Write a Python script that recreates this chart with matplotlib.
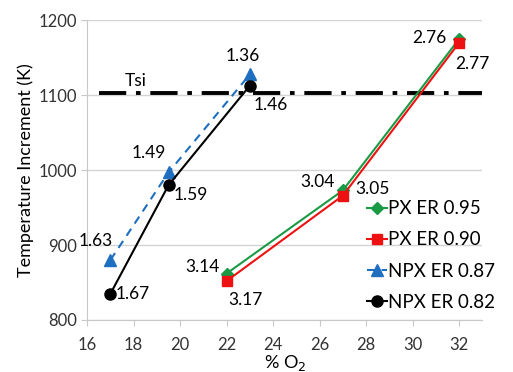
import matplotlib.pyplot as plt

plt.rcParams['font.family'] = ['Lato', 'DejaVu Sans']

# % O2 and temperature increment per case
px_o2 = [22, 27, 32]
npx_o2 = [17, 19.5, 23]

px95_temp = [862, 973, 1175]
px90_temp = [852, 966, 1170]
npx87_temp = [880, 997, 1128]
npx82_temp = [835, 980, 1113]

# equivalence-ratio labels at each point
px95_lbl = ['3.14', '3.04', '2.76']
px90_lbl = ['3.17', '3.05', '2.77']
npx87_lbl = ['1.63', '1.49', '1.36']
npx82_lbl = ['1.67', '1.59', '1.46']

tsi = 1103

fig = plt.figure(figsize=(5.13, 3.72), dpi=100)
ax = fig.add_axes([0.17, 0.14, 0.77, 0.805])

ax.axhline(tsi, xmin=0.03, xmax=1.0, color='black', lw=2.8,
           dashes=(7, 2.5, 1.2, 2.5), zorder=2)
ax.text(17.6, tsi + 5, 'Tsi', fontsize=12.5, ha='left', va='bottom')

ax.plot(px_o2, px95_temp, color='#1a9a45', marker='D', ms=6, lw=1.5,
        label='PX ER 0.95', zorder=3)
ax.plot(px_o2, px90_temp, color='#ee1111', marker='s', ms=7, lw=1.5,
        label='PX ER 0.90', zorder=3)
ax.plot(npx_o2, npx87_temp, color='#1f6fc0', marker='^', ms=8, lw=1.5,
        ls=(0, (4, 3)), label='NPX ER 0.87', zorder=3)
ax.plot(npx_o2, npx82_temp, color='black', marker='o', ms=8, lw=1.5,
        label='NPX ER 0.82', zorder=4)

fs = 12.5
# offsets (points) for each label
def put(xs, ys, lbls, offs):
    for x, y, t, (dx, dy, ha, va) in zip(xs, ys, lbls, offs):
        ax.annotate(t, (x, y), xytext=(dx, dy), textcoords='offset points',
                    ha=ha, va=va, fontsize=fs)

put(npx_o2, npx82_temp, npx82_lbl,
    [(4, 0, 'left', 'center'), (4, -7, 'left', 'center'), (3, -14, 'left', 'center')])
put(npx_o2, npx87_temp, npx87_lbl,
    [(2, 14, 'right', 'center'), (-2, 14, 'right', 'center'), (-5, 13, 'center', 'center')])
put(px_o2, px95_temp, px95_lbl,
    [(-5, 5, 'right', 'center'), (-6, 6, 'right', 'center'), (-9, 1, 'right', 'center')])
put(px_o2, px90_temp, px90_lbl,
    [(1, -14, 'left', 'center'), (9, 5, 'left', 'center'), (-3, -15, 'left', 'center')])

ax.set_xlim(16, 33)
ax.set_ylim(800, 1200)
ax.set_xticks(range(16, 33, 2))
ax.set_yticks(range(800, 1201, 100))
ax.tick_params(labelsize=12, colors='#333333', length=4, color='#c8c8c8')
ax.tick_params(axis='x', pad=8)
ax.grid(axis='y', color='#d4d4d4', lw=1)
ax.set_axisbelow(True)
for s in ['top', 'right']:
    ax.spines[s].set_visible(False)
for s in ['left', 'bottom']:
    ax.spines[s].set_color('#c8c8c8')

ax.set_xlabel('% O$_2$', fontsize=13, labelpad=0)
ax.set_ylabel('Temperature Increment (K)', fontsize=13, labelpad=3)

ax.legend(loc='center left', bbox_to_anchor=(0.665, 0.215), frameon=False,
          fontsize=13.5, handlelength=1.1, handletextpad=0.05, labelspacing=0.76)

fig.savefig('out.png')
